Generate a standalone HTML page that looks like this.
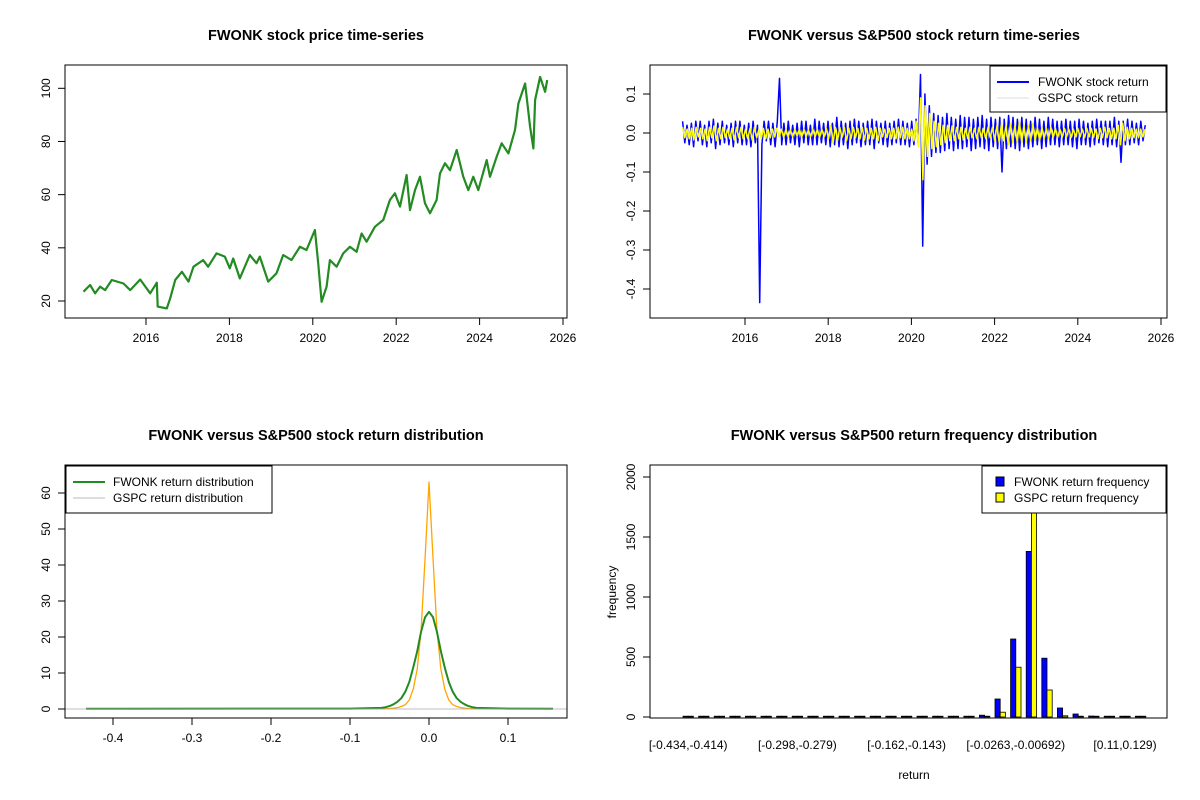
<!DOCTYPE html>
<html><head><meta charset="utf-8"><style>
html,body{margin:0;padding:0;background:#fff}
svg{display:block;font-family:"Liberation Sans",Arial,sans-serif}
</style></head><body>
<svg id="s" width="1200" height="800" viewBox="0 0 1200 800">
<rect width="1200" height="800" fill="#fff"/>
</svg>
<script>
// ---- data ----
const priceYears=[2014.50,2014.66,2014.78,2014.90,2015.02,2015.18,2015.46,2015.62,2015.86,2016.10,2016.26,2016.28,2016.50,2016.58,2016.70,2016.86,2017.02,2017.14,2017.37,2017.49,2017.69,2017.89,2018.01,2018.09,2018.25,2018.49,2018.65,2018.73,2018.93,2019.13,2019.29,2019.49,2019.69,2019.85,2020.05,2020.13,2020.21,2020.33,2020.41,2020.57,2020.73,2020.89,2021.05,2021.17,2021.29,2021.49,2021.69,2021.85,2021.97,2022.09,2022.25,2022.33,2022.45,2022.57,2022.69,2022.81,2022.97,2023.05,2023.17,2023.29,2023.45,2023.61,2023.73,2023.85,2023.97,2024.17,2024.25,2024.41,2024.53,2024.69,2024.85,2024.93,2025.09,2025.21,2025.29,2025.33,2025.45,2025.57,2025.62];
const priceValues=[23.5,26.0,22.9,25.4,24.1,27.9,26.6,24.1,28.1,22.9,26.9,17.9,17.2,21.0,27.9,31.0,27.3,32.9,35.4,32.9,37.9,36.7,32.3,36.0,28.5,37.3,34.2,36.7,27.3,30.4,37.3,35.4,40.4,39.2,46.7,34.2,19.7,25.4,35.4,32.9,37.9,40.4,38.5,45.4,42.3,47.9,50.5,58.0,60.5,55.5,67.4,54.2,61.7,66.7,56.7,53.0,58.0,68.0,71.8,69.2,76.8,66.7,61.7,66.7,61.7,73.0,66.7,74.3,79.3,75.5,84.3,94.3,101.8,85.5,77.4,95.6,104.3,98.7,103.1];
const retStart=2014.5, retEnd=2025.62;
const retFwonk=[0.03,-0.025,0.02,-0.03,0.025,-0.035,0.03,-0.02,0.03,-0.03,0.02,-0.035,0.03,-0.025,0.035,-0.04,0.025,-0.03,0.03,-0.025,0.02,-0.03,0.025,-0.035,0.03,-0.025,0.03,-0.03,0.02,-0.03,0.025,-0.035,0.03,-0.025,0.02,-0.435,-0.03,0.03,-0.02,0.03,-0.03,0.025,-0.035,0.03,0.14,-0.03,0.025,-0.03,0.03,-0.025,0.02,-0.03,0.025,-0.035,0.03,-0.025,0.03,-0.03,0.02,-0.03,0.035,-0.03,0.03,-0.025,0.025,-0.03,0.03,-0.035,0.025,-0.03,0.04,-0.035,0.03,-0.03,0.025,-0.04,0.03,-0.03,0.035,-0.025,0.03,-0.035,0.025,-0.03,0.03,-0.03,0.035,-0.04,0.03,-0.025,0.025,-0.03,0.03,-0.035,0.025,-0.03,0.03,-0.025,0.035,-0.03,0.03,-0.03,0.025,-0.035,0.03,-0.03,0.035,-0.03,0.15,-0.29,0.1,-0.08,0.07,-0.06,0.05,-0.05,0.045,-0.05,0.04,-0.045,0.05,-0.04,0.04,-0.045,0.035,-0.04,0.045,-0.04,0.04,-0.035,0.04,-0.045,0.035,-0.04,0.04,-0.035,0.045,-0.04,0.035,-0.045,0.04,-0.035,0.035,-0.04,0.04,-0.10,0.035,-0.04,0.045,-0.035,0.04,-0.04,0.035,-0.045,0.04,-0.035,0.035,-0.04,0.03,-0.035,0.04,-0.03,0.035,-0.04,0.03,-0.035,0.04,-0.03,0.035,-0.03,0.03,-0.035,0.03,-0.03,0.035,-0.03,0.03,-0.035,0.03,-0.04,0.035,-0.03,0.03,-0.03,0.025,-0.035,0.03,-0.03,0.035,-0.025,0.03,-0.03,0.03,-0.035,0.03,-0.03,0.04,-0.035,0.03,-0.075,0.03,-0.03,0.035,-0.03,0.03,-0.025,0.025,-0.03,0.03,-0.02,0.02];
const retGspc=[0.015,-0.012,0.01,-0.015,0.012,-0.018,0.015,-0.01,0.012,-0.015,0.01,-0.02,0.015,-0.012,0.018,-0.02,0.012,-0.015,0.015,-0.012,0.01,-0.015,0.012,-0.018,0.015,-0.012,0.015,-0.015,0.01,-0.015,0.012,-0.018,0.015,-0.012,0.01,-0.015,0.012,-0.015,0.01,-0.012,0.01,-0.01,0.012,-0.01,0.01,-0.012,0.01,-0.01,0.008,-0.01,0.01,-0.008,0.01,-0.012,0.01,-0.01,0.008,-0.01,0.01,-0.01,0.01,-0.012,0.01,-0.01,0.012,-0.015,0.02,-0.025,0.015,-0.02,0.015,-0.012,0.015,-0.02,0.012,-0.015,0.015,-0.012,0.012,-0.015,0.015,-0.018,0.012,-0.015,0.012,-0.015,0.015,-0.02,0.012,-0.01,0.01,-0.012,0.012,-0.015,0.012,-0.015,0.015,-0.012,0.015,-0.015,0.012,-0.015,0.01,-0.02,0.03,-0.035,0.09,-0.12,0.07,-0.06,0.05,-0.04,0.03,-0.035,0.025,-0.03,0.02,-0.025,0.02,-0.02,0.018,-0.02,0.015,-0.015,0.015,-0.018,0.012,-0.015,0.015,-0.012,0.012,-0.015,0.015,-0.012,0.012,-0.015,0.015,-0.012,0.015,-0.02,0.02,-0.025,0.025,-0.02,0.02,-0.03,0.025,-0.025,0.02,-0.025,0.03,-0.025,0.02,-0.025,0.02,-0.02,0.025,-0.02,0.015,-0.02,0.015,-0.015,0.012,-0.015,0.015,-0.012,0.012,-0.012,0.01,-0.012,0.012,-0.01,0.01,-0.012,0.01,-0.01,0.012,-0.01,0.01,-0.012,0.012,-0.01,0.012,-0.012,0.01,-0.015,0.012,-0.012,0.015,-0.012,0.012,-0.015,0.012,-0.015,0.02,-0.03,0.025,-0.02,0.015,-0.015,0.012,-0.012,0.01,-0.012,0.01,-0.01,0.01];
const densX=[-0.434,-0.10,-0.06,-0.055,-0.05,-0.045,-0.04,-0.035,-0.03,-0.025,-0.02,-0.015,-0.01,-0.005,0,0.005,0.01,0.015,0.02,0.025,0.03,0.035,0.04,0.045,0.05,0.055,0.06,0.10,0.157];
const densFwonk=[0.05,0.1,0.3,0.5,0.8,1.3,2,3,4.8,7.5,11.5,16,21.5,25.5,27,25.5,21.5,16,11.5,7.5,4.8,3,2,1.3,0.8,0.5,0.3,0.1,0.05];
const densGspc=[0,0,0.05,0.1,0.15,0.25,0.4,0.7,1.2,2.5,5.5,11,22,42,63,42,22,11,5.5,2.5,1.2,0.7,0.4,0.25,0.15,0.1,0.05,0,0];
const binLabels=["[-0.434,-0.414)","[-0.298,-0.279)","[-0.162,-0.143)","[-0.0263,-0.00692)","[0.11,0.129)"];
const binLabelIdx=[0,7,14,21,28];
const freqFwonk=[1,0,0,0,0,0,0,0,0,0,0,0,0,1,0,0,3,0,2,15,150,650,1380,490,75,25,8,5,1,1];
const freqGspc=[0,0,0,0,0,0,0,0,0,0,0,0,0,0,0,0,1,1,2,5,40,415,1780,225,10,5,3,2,0,0];

const NS="http://www.w3.org/2000/svg";
const svg=document.getElementById('s');
function el(tag,attrs,parent,text){const e=document.createElementNS(NS,tag);for(const k in attrs)e.setAttribute(k,attrs[k]);if(text!==undefined)e.textContent=text;(parent||svg).appendChild(e);return e;}
function lin(d0,d1,r0,r1){return v=>r0+(v-d0)*(r1-r0)/(d1-d0);}
function frame(x0,y0,x1,y1,name){const r=el('rect',{x:x0,y:y0,width:x1-x0,height:y1-y0,fill:'none',stroke:'#000','stroke-width':1});}
function xticks(vals,labels,sx,y,name){const g=el('g',{});
 el('line',{x1:sx(vals[0]),x2:sx(vals[vals.length-1]),y1:y,y2:y,stroke:'#000'},g);
 vals.forEach((v,i)=>{el('line',{x1:sx(v),x2:sx(v),y1:y,y2:y+7,stroke:'#000'},g);el('text',{x:sx(v),y:y+24,'font-size':12,'text-anchor':'middle'},g,labels[i]);});}
function yticks(vals,labels,sy,x,name){const g=el('g',{});
 el('line',{x1:x,x2:x,y1:sy(vals[0]),y2:sy(vals[vals.length-1]),stroke:'#000'},g);
 vals.forEach((v,i)=>{el('line',{x1:x,x2:x-7,y1:sy(v),y2:sy(v),stroke:'#000'},g);el('text',{x:x-15,y:sy(v),'font-size':12,'text-anchor':'middle',transform:`rotate(-90 ${x-15} ${sy(v)})`},g,labels[i]);});}
function title(x,y,t,name){const e=el('text',{x:x,y:y,'font-size':14.5,'font-weight':'bold','text-anchor':'middle'},svg,t);}
function poly(xs,ys,sx,sy,color,w,name){const p=el('polyline',{points:xs.map((x,i)=>sx(x).toFixed(1)+','+sy(ys[i]).toFixed(1)).join(' '),fill:'none',stroke:color,'stroke-width':w,'stroke-linejoin':'round'});}

const years=[2016,2018,2020,2022,2024,2026];
// ---- panel 1 ----
title(316,40,'FWONK stock price time-series','price-chart-title');
const sx1=lin(2016,2026,146,563), sy1=lin(20,100,301,88.3);
poly(priceYears,priceValues,sx1,sy1,'#228B22',2.2,'price-line');
frame(65,65,567,318,'price-plot-box');
xticks(years,years.map(String),sx1,318,'price-x-axis');
yticks([20,40,60,80,100],['20','40','60','80','100'],sy1,65,'price-y-axis');

// ---- panel 2 ----
title(914,40,'FWONK versus S&P500 stock return time-series','return-chart-title');
const sx2=lin(2016,2026,745,1161), sy2=lin(0,0.1,133,94);
const rStep=(retEnd-retStart)/(retFwonk.length-1);
poly(retFwonk.map((_,i)=>retStart+i*rStep),retFwonk,sx2,sy2,'#0000FF',1.5,'fwonk-return-line');
const gStep=(retEnd-retStart)/(retGspc.length-1);
poly(retGspc.map((_,i)=>retStart+i*gStep),retGspc,sx2,sy2,'#FFFF00',1.5,'gspc-return-line');
frame(650,65,1167,318,'return-plot-box');
xticks(years,years.map(String),sx2,318,'return-x-axis');
yticks([-0.4,-0.3,-0.2,-0.1,0,0.1],['-0.4','-0.3','-0.2','-0.1','0.0','0.1'],sy2,650,'return-y-axis');
{const g=el('g',{});
 el('rect',{x:990,y:66,width:176,height:46,fill:'#fff',stroke:'#000'},g);
 el('line',{x1:997,x2:1029,y1:82,y2:82,stroke:'#00f','stroke-width':2},g);el('text',{x:1038,y:86,'font-size':12},g,'FWONK stock return');
 el('line',{x1:997,x2:1029,y1:98,y2:98,stroke:'#ddd','stroke-width':1},g);el('text',{x:1038,y:102,'font-size':12},g,'GSPC stock return');}

// ---- panel 3 ----
title(316,440,'FWONK versus S&P500 stock return distribution','density-chart-title');
const sx3=lin(-0.4,0.1,113,508), sy3=lin(0,60,709,493);
poly(densX,densGspc,sx3,sy3,'#FFA500',1.3,'gspc-density-line');
poly(densX,densFwonk,sx3,sy3,'#228B22',2,'fwonk-density-line');
el('line',{x1:65,x2:567,y1:sy3(0),y2:sy3(0),stroke:'#aaa','stroke-width':0.8});
frame(65,465,567,718,'density-plot-box');
xticks([-0.4,-0.3,-0.2,-0.1,0,0.1],['-0.4','-0.3','-0.2','-0.1','0.0','0.1'],sx3,718,'density-x-axis');
yticks([0,10,20,30,40,50,60],['0','10','20','30','40','50','60'],sy3,65,'density-y-axis');
{const g=el('g',{});
 el('rect',{x:66,y:466,width:206,height:47,fill:'#fff',stroke:'#000'},g);
 el('line',{x1:73,x2:105,y1:482,y2:482,stroke:'#228B22','stroke-width':2},g);el('text',{x:113,y:486,'font-size':12},g,'FWONK return distribution');
 el('line',{x1:73,x2:105,y1:498,y2:498,stroke:'#bbb','stroke-width':1},g);el('text',{x:113,y:502,'font-size':12},g,'GSPC return distribution');}

// ---- panel 4 ----
title(914,440,'FWONK versus S&P500 return frequency distribution','histogram-chart-title');
const sy4=lin(0,2000,717,477);
const groupStart=i=>683+i*15.6;
const bw=5.2;
function barRect(x,v,fill){const top=Math.max(465,sy4(v));const h=Math.max(0.8,sy4(0)-top);
 return el('rect',{x:x,y:sy4(0)-h,width:bw,height:h,fill:fill,stroke:'#000','stroke-width':0.8});}
freqFwonk.forEach((v,i)=>{const r=barRect(groupStart(i),v,'#0000FF');
 
 });
freqGspc.forEach((v,i)=>{const r=barRect(groupStart(i)+bw,v,'#FFFF00');
 
 });
frame(650,465,1167,718,'histogram-plot-box');
{const g=el('g',{});
 binLabelIdx.forEach((b,i)=>el('text',{x:groupStart(b)+bw,y:749,'font-size':12,'text-anchor':'middle'},g,binLabels[i]));}
yticks([0,500,1000,1500,2000],['0','500','1000','1500','2000'],sy4,650,'histogram-y-axis');
{const t=el('text',{x:914,y:779,'font-size':12,'text-anchor':'middle'},svg,'return');
 const t2=el('text',{x:616,y:592,'font-size':12,'text-anchor':'middle',transform:'rotate(-90 616 592)'},svg,'frequency');}
{const g=el('g',{});
 el('rect',{x:982,y:466,width:184,height:47,fill:'#fff',stroke:'#000'},g);
 el('rect',{x:996,y:477,width:8,height:9,fill:'#00f',stroke:'#000'},g);el('text',{x:1014,y:486,'font-size':12},g,'FWONK return frequency');
 el('rect',{x:996,y:493,width:8,height:9,fill:'#ff0',stroke:'#000'},g);el('text',{x:1014,y:502,'font-size':12},g,'GSPC return frequency');}
</script>
</body></html>
